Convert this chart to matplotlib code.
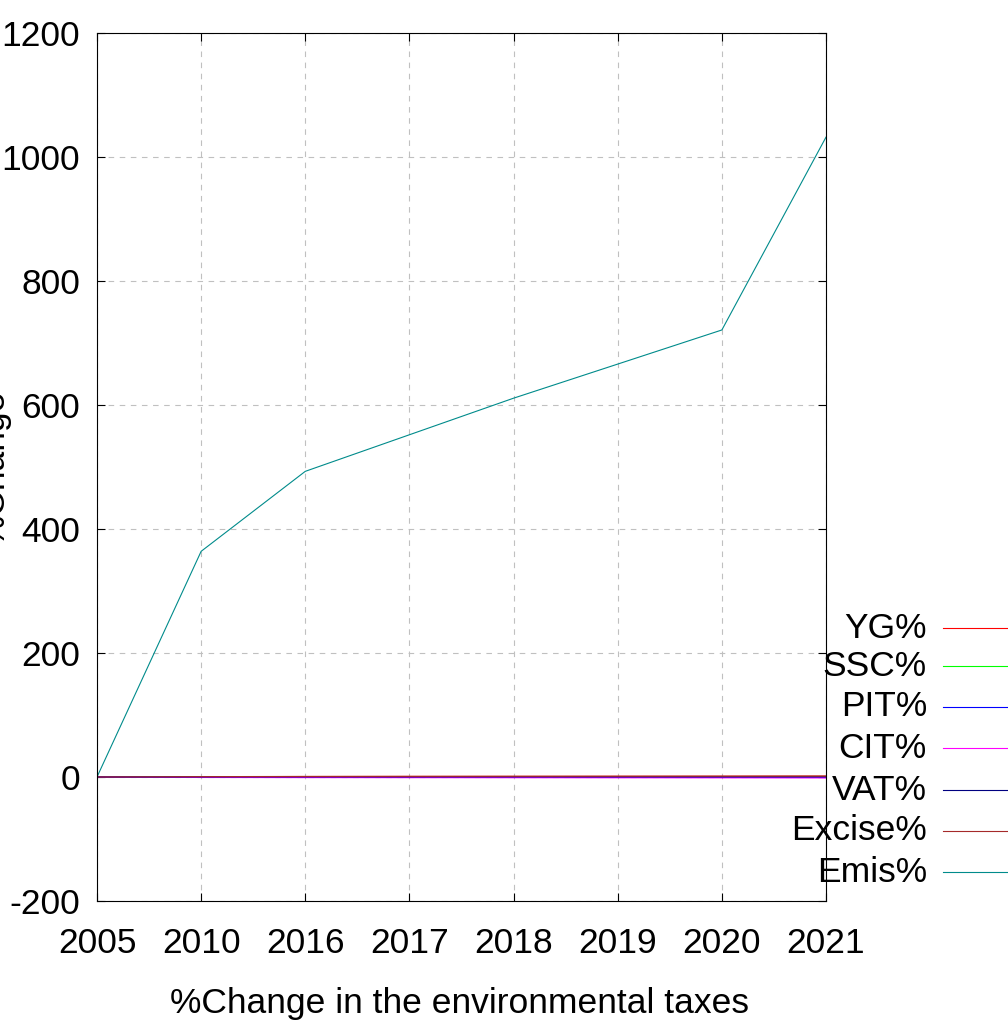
import matplotlib
matplotlib.use("Agg")
import matplotlib.pyplot as plt
from matplotlib.lines import Line2D

# data
years = ["2005", "2010", "2016", "2017", "2018", "2019", "2020", "2021"]
yg = [0, 0.5, 0.8, 1.0, 1.1, 1.2, 1.3, 1.5]
ssc = [0, 0.2, 0.4, 0.5, 0.5, 0.6, 0.7, 0.8]
pit = [0, -0.3, -0.5, -0.6, -0.6, -0.7, -0.7, -0.8]
cit = [0, -0.8, -1.0, -1.1, -1.2, -1.3, -1.4, -1.5]
vat = [0, 0.1, 0.2, 0.2, 0.3, 0.3, 0.3, 0.4]
excise = [0, 0.6, 0.9, 1.0, 1.1, 1.2, 1.3, 1.4]
emis = [0, 364, 493, 552, 611, 666, 721, 1032]

labels = ["YG%", "SSC%", "PIT%", "CIT%", "VAT%", "Excise%", "Emis%"]
colors = ["#ff0000", "#00ff00", "#0000ff", "#ff00ff", "#000080", "#a52a2a", "#008b8b"]
series = [yg, ssc, pit, cit, vat, excise, emis]

plt.rcParams['font.family'] = ['Liberation Sans', 'DejaVu Sans']
plt.rcParams['font.size'] = 25.5
plt.rcParams['axes.unicode_minus'] = False

fig = plt.figure(figsize=(10.08, 10.30), dpi=100)
ax = fig.add_axes([97 / 1008, 1 - 901 / 1030, (826 - 97) / 1008, (901 - 33) / 1030])

x = list(range(len(years)))
for vals, col in zip(series, colors):
    ax.plot(x, vals, color=col, linewidth=0.8)

ax.set_xlim(0, len(years) - 1)
ax.set_ylim(-200, 1200)
ax.set_xticks(x)
ax.set_xticklabels(years)
ax.set_yticks(range(-200, 1201, 200))
ax.tick_params(direction='in', length=6, width=0.8, top=True, right=True)
ax.tick_params(axis='x', pad=19)
ax.tick_params(axis='y', pad=12)
ax.grid(True, color='#c0c0c0', linestyle=(0, (5, 5)), linewidth=0.8)
for s in ax.spines.values():
    s.set_linewidth(0.8)

fig.text(460 / 1008, 1 - 1003 / 1030, "%Change in the environmental taxes",
         ha='center', va='center', fontsize=25.5)
fig.text(11 / 1008, 1 - 467 / 1030, "%Change", rotation=90,
         ha='right', va='center', fontsize=25.5)

# legend (gnuplot style: right-aligned text, sample to the right)
row_y = [628, 666, 707, 748, 790, 831, 872]
for lab, col, yy in zip(labels, colors, row_y):
    fy = 1 - yy / 1030
    fig.text(927 / 1008, fy, lab, ha='right', va='center', fontsize=25.5)
    fig.add_artist(Line2D([943 / 1008, 1.0], [fy, fy], color=col, linewidth=0.8,
                          transform=fig.transFigure))

fig.savefig("out.png", dpi=100)
